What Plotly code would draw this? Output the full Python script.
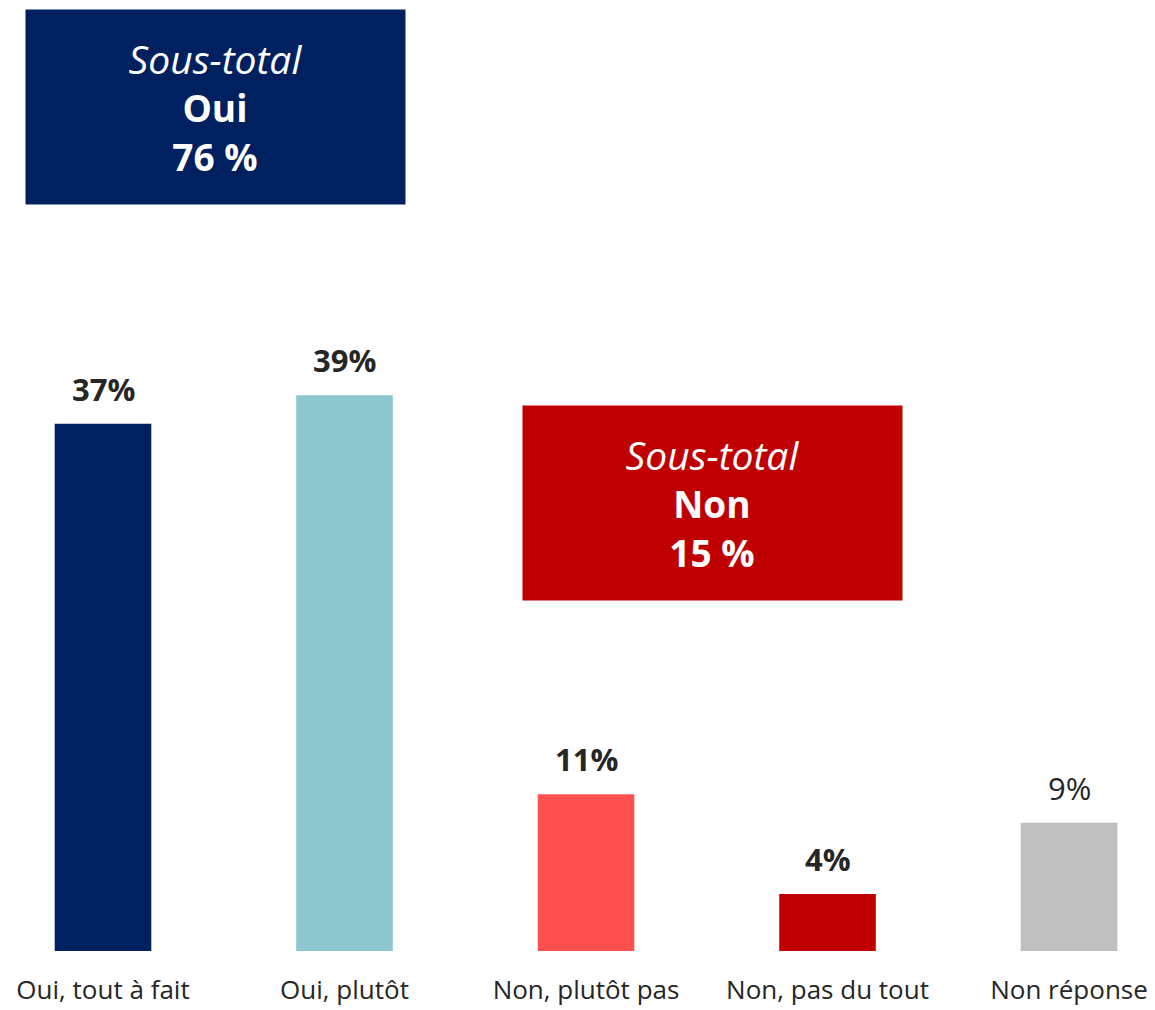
import plotly.graph_objects as go

# ── Data ──────────────────────────────────────────────────────────────────────
categories = ["Oui, tout à fait", "Oui, plutôt", "Non, plutôt pas", "Non, pas du tout", "Non réponse"]
values = [37, 39, 11, 4, 9]
bar_colors = ["#002060", "#8CC6CE", "#FF5050", "#C00000", "#BFBFBF"]
label_bold = [True, True, True, True, False]

subtotal_oui = 76
subtotal_non = 15

TEXT = "#262626"
FONT = "Open Sans"

fig = go.Figure()
fig.add_trace(go.Bar(
    x=categories,
    y=values,
    marker=dict(color=bar_colors, line=dict(width=0)),
    width=0.40,
    hoverinfo="skip",
))

# value labels above bars
for cat, v, b in zip(categories, values, label_bold):
    txt = f"<b>{v}%</b>" if b else f"{v}%"
    fig.add_annotation(
        x=cat, y=v, xref="x", yref="y",
        text=txt, showarrow=False,
        yanchor="middle", yshift=35,
        font=dict(family=FONT, size=31, color=TEXT),
    )

# subtotal boxes
def subtotal_box(x, y, label, pct, color):
    fig.add_annotation(
        x=x, y=y, xref="paper", yref="paper",
        xanchor="center", yanchor="middle",
        text=(f"<span style='font-size:39px'><i>Sous-total</i></span>"
              f"<br><b>{label}</b><br><b>{pct} %</b>"),
        showarrow=False, align="center", valign="middle",
        width=379, height=194, bgcolor=color, borderpad=0,
        font=dict(family=FONT, size=37, color="white"),
    )

subtotal_box(0.1809, 0.8955, "Oui", subtotal_oui, "#002060")
subtotal_box(0.6142, 0.4751, "Non", subtotal_non, "#C00000")

fig.update_layout(
    width=1147, height=1002,
    plot_bgcolor="white", paper_bgcolor="white",
    margin=dict(l=0, r=0, t=0, b=59, autoexpand=False),
    showlegend=False,
    font=dict(family=FONT, color=TEXT),
)
fig.update_xaxes(
    range=[-0.3934, 4.356],
    showgrid=False, showline=False, zeroline=False,
    ticks="", ticklabelstandoff=21,
    tickfont=dict(family=FONT, size=26, color=TEXT),
    automargin=False,
)
fig.update_yaxes(
    range=[0, 66.18],
    visible=False, showgrid=False, zeroline=False,
    automargin=False,
)

fig.write_html("out.html")
